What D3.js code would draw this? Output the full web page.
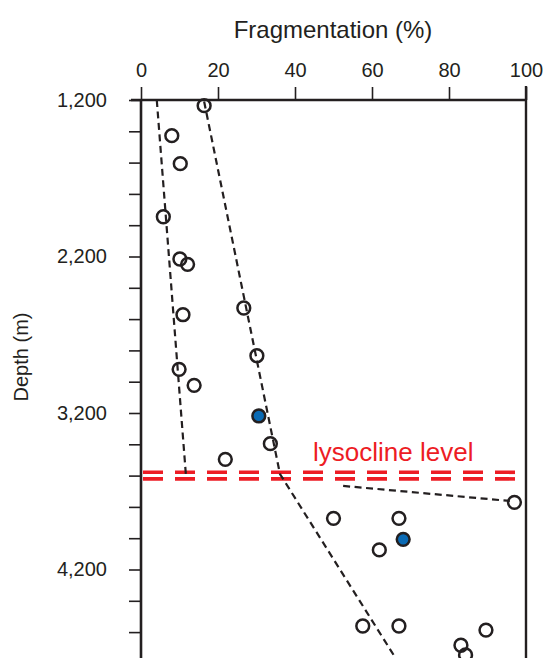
<!DOCTYPE html>
<html>
<head>
<meta charset="utf-8">
<script src="https://cdn.jsdelivr.net/npm/d3@7"></script>
<style>
  body { margin: 0; background: #fff; }
  svg { display: block; font-family: "Liberation Sans", Arial, sans-serif; }
</style>
</head>
<body>
<div id="chart"></div>
<script>
"use strict";

// open circles (fragmentation %, depth m)
var openFrag  = [16.4, 8.0, 10.2, 5.8, 10.1, 12.1, 26.7, 10.9, 30.1, 9.9, 13.8, 33.6, 21.9,
                 97.0, 50.0, 67.0, 61.9, 57.6, 67.0, 89.6, 83.1, 84.3];
var openDepth = [1236, 1428, 1607, 1946, 2216, 2250, 2529, 2572, 2834, 2921, 3023, 3396, 3496,
                 3771, 3873, 3873, 4075, 4561, 4561, 4587, 4684, 4746];

// filled (blue) circles
var filledFrag  = [30.6, 68.1];
var filledDepth = [3219, 4007];

// dashed trend lines
var trendAFrag = [4.1, 11.7],  trendADepth = [1200, 3607];
var trendBFrag = [16.4, 36.1, 67.0], trendBDepth = [1210, 3590, 4800];
var trendCFrag = [52.5, 95.8], trendCDepth = [3666, 3762];

var lysoclineDepth = 3600;
var lysoclineLabel = "lysocline level";

var xTicks = [0, 20, 40, 60, 80, 100];
var yMajor = [1200, 2200, 3200, 4200];
var yMinor = d3.range(1200, 4801, 200);

var width = 544, height = 658;

var x = d3.scaleLinear().domain([0, 100]).range([141, 526]);
var y = d3.scaleLinear().domain([1200, 4800]).range([100, 100 + 3600 * 0.1565]);

var svg = d3.select("#chart").append("svg")
  .attr("width", width)
  .attr("height", height);

var ink = "#231f20";

// top axis
var xAxis = d3.axisTop(x).tickValues(xTicks).tickSize(13).tickPadding(10);
var gx = svg.append("g")
  .attr("transform", "translate(0," + y(1200) + ")")
  .call(xAxis);
gx.select(".domain").remove();
gx.selectAll("line").attr("stroke", ink).attr("stroke-width", 1.6);
gx.selectAll("text").style("font-size", "20px").attr("fill", ink);

// left axis
var yAxis = d3.axisLeft(y).tickValues(yMinor).tickSize(12).tickPadding(22)
  .tickFormat(function(d) { return yMajor.includes(d) ? d3.format(",")(d) : ""; });
var gy = svg.append("g")
  .attr("transform", "translate(" + x(0) + ",0)")
  .call(yAxis);
gy.select(".domain").remove();
gy.selectAll("line").attr("stroke", ink).attr("stroke-width", 1.6);
gy.selectAll("text").style("font-size", "20px").attr("fill", ink);

// frame lines
svg.append("line").attr("x1", x(0) - 10).attr("x2", x(100))
  .attr("y1", y(1200)).attr("y2", y(1200))
  .attr("stroke", ink).attr("stroke-width", 2.4);
svg.append("line").attr("x1", x(0)).attr("x2", x(0))
  .attr("y1", y(1200) - 1).attr("y2", height)
  .attr("stroke", ink).attr("stroke-width", 2.6);
svg.append("line").attr("x1", x(100)).attr("x2", x(100))
  .attr("y1", y(1200) - 14).attr("y2", height)
  .attr("stroke", ink).attr("stroke-width", 2.4);

// axis titles
svg.append("text")
  .attr("x", 333).attr("y", 38)
  .attr("text-anchor", "middle")
  .style("font-size", "24px").attr("fill", ink)
  .text("Fragmentation (%)");
svg.append("text")
  .attr("transform", "translate(28,357) rotate(-90)")
  .attr("text-anchor", "middle")
  .style("font-size", "20px").attr("fill", ink)
  .text("Depth (m)");

// lysocline double dashed line
[-3.3, 3.3].forEach(function(off) {
  svg.append("line")
    .attr("x1", x(0) + 2).attr("x2", 517)
    .attr("y1", y(lysoclineDepth) + off).attr("y2", y(lysoclineDepth) + off)
    .attr("stroke", "#ed1c24").attr("stroke-width", 3.6)
    .attr("stroke-dasharray", "20,12");
});
svg.append("text")
  .attr("x", 313).attr("y", 461)
  .style("font-size", "26px").attr("fill", "#ed1c24")
  .text(lysoclineLabel);

// trend lines
var line = d3.line()
  .x(function(d) { return x(d[0]); })
  .y(function(d) { return y(d[1]); });
[[trendAFrag, trendADepth], [trendBFrag, trendBDepth], [trendCFrag, trendCDepth]].forEach(function(t) {
  svg.append("path")
    .datum(d3.zip(t[0], t[1]))
    .attr("d", line)
    .attr("fill", "none")
    .attr("stroke", ink)
    .attr("stroke-width", 2.2)
    .attr("stroke-dasharray", "7,4.5");
});

// points
svg.selectAll(".open")
  .data(d3.zip(openFrag, openDepth))
  .enter().append("circle")
  .attr("class", "open")
  .attr("cx", function(d) { return x(d[0]); })
  .attr("cy", function(d) { return y(d[1]); })
  .attr("r", 6.4)
  .attr("fill", "none")
  .attr("stroke", ink)
  .attr("stroke-width", 2.5);

svg.selectAll(".filled")
  .data(d3.zip(filledFrag, filledDepth))
  .enter().append("circle")
  .attr("class", "filled")
  .attr("cx", function(d) { return x(d[0]); })
  .attr("cy", function(d) { return y(d[1]); })
  .attr("r", 6.4)
  .attr("fill", "#0a6ab4")
  .attr("stroke", ink)
  .attr("stroke-width", 2.5);
</script>
</body>
</html>
